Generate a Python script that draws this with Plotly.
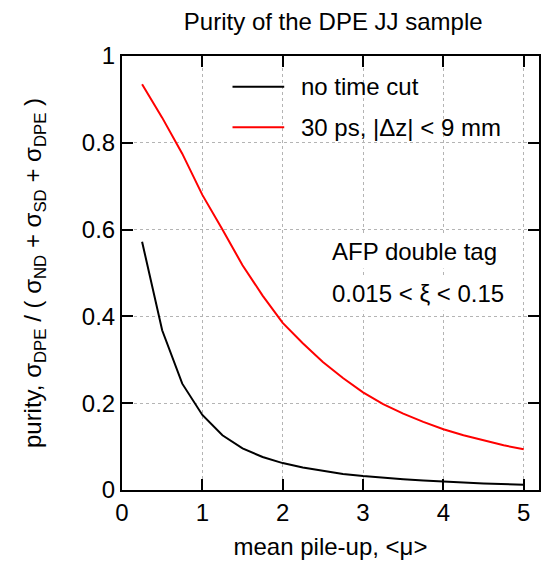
import plotly.graph_objects as go

mu = [0.25, 0.5, 0.75, 1.0, 1.25, 1.5, 1.75, 2.0, 2.25, 2.5, 2.75, 3.0,
      3.25, 3.5, 3.75, 4.0, 4.25, 4.5, 4.75, 5.0]
purity_no_cut = [0.572, 0.368, 0.245, 0.173, 0.126, 0.096, 0.076, 0.062, 0.052, 0.044,
                 0.037, 0.032, 0.028, 0.025, 0.022, 0.019, 0.017, 0.015, 0.0135, 0.012]
purity_cut = [0.935, 0.858, 0.775, 0.68, 0.6, 0.518, 0.448, 0.385, 0.338, 0.295,
              0.258, 0.225, 0.198, 0.176, 0.157, 0.14, 0.126, 0.114, 0.103, 0.094]
series_names = ["no time cut", "30 ps, |Δz| < 9 mm"]
series_colors = ["black", "#ff0000"]
x_ticks = [0, 1, 2, 3, 4, 5]
y_ticks = [0, 0.2, 0.4, 0.6, 0.8, 1]

FONT = "Liberation Sans, Arial, sans-serif"
FS = 24

fig = go.Figure()
for name, vals, col in zip(series_names, [purity_no_cut, purity_cut], series_colors):
    fig.add_trace(go.Scatter(x=mu, y=vals, mode="lines", name=name,
                             line=dict(color=col, width=2), showlegend=False))

# manual legend (decoration)
leg_y = [0.929, 0.836]
for name, col, yy in zip(series_names, series_colors, leg_y):
    fig.add_shape(type="line", xref="paper", yref="paper", x0=0.265, x1=0.389,
                  y0=yy, y1=yy, line=dict(color=col, width=2))
    fig.add_annotation(xref="paper", yref="paper", x=0.425, y=yy, text=name,
                       showarrow=False, xanchor="left", yanchor="middle",
                       font=dict(family=FONT, size=FS, color="black"))

# white area behind legend hides the grid
fig.add_shape(type="rect", xref="paper", yref="paper", x0=0.227, x1=0.979,
              y0=0.793, y1=1.0, fillcolor="white", line=dict(width=0), layer="between")

for txt, yy in [("AFP double tag", 0.549), ("0.015 &lt; ξ &lt; 0.15", 0.452)]:
    fig.add_annotation(xref="paper", yref="paper", x=0.495, y=yy, text=txt,
                       showarrow=False, xanchor="left", yanchor="middle",
                       bgcolor="white", borderpad=3,
                       font=dict(family=FONT, size=FS, color="black"))

axis_common = dict(showline=True, linecolor="black", linewidth=2, mirror="ticks",
                   ticks="inside", ticklen=11, tickwidth=2, tickcolor="black",
                   showgrid=True, gridcolor="#b4b4b4", griddash="dot", gridwidth=1,
                   zeroline=False, tickfont=dict(family=FONT, size=FS, color="black"))

fig.update_xaxes(range=[0, 5.19], tickvals=x_ticks, ticktext=[str(v) for v in x_ticks],
                 title=dict(text="mean pile-up, &lt;μ&gt;", standoff=13,
                            font=dict(family=FONT, size=FS, color="black")),
                 **axis_common)
fig.update_yaxes(range=[0, 1], tickvals=y_ticks, ticktext=["0", "0.2", "0.4", "0.6", "0.8", "1"],
                 title=dict(text="purity, σ<sub>DPE</sub> / ( σ<sub>ND</sub> + σ<sub>SD</sub> + σ<sub>DPE</sub> )",
                            standoff=33, font=dict(family=FONT, size=FS, color="black")),
                 **axis_common)

fig.update_layout(
    width=541, height=562,
    margin=dict(l=122, r=0, t=56, b=72),
    paper_bgcolor="white", plot_bgcolor="white",
    title=dict(text="Purity of the DPE JJ sample", x=0.616, xanchor="center",
               y=0.961, yanchor="middle", font=dict(family=FONT, size=FS, color="black")),
)

fig.write_html("out.html")
